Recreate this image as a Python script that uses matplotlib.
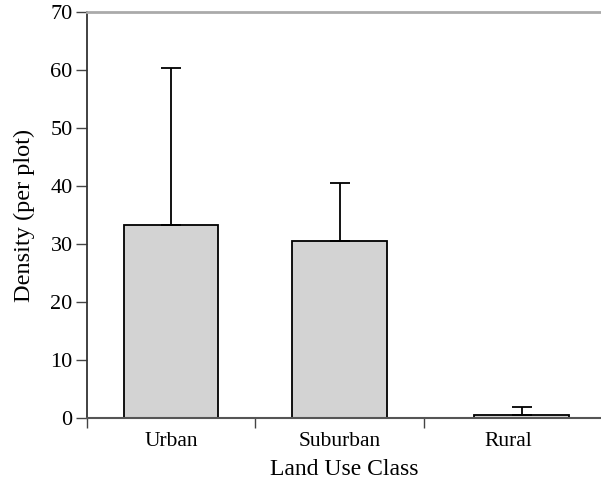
import matplotlib
matplotlib.use("Agg")
import matplotlib.pyplot as plt

categories = ["Urban", "Suburban", "Rural"]
density = [33.3, 30.6, 0.6]
error_up = [27.0, 10.0, 1.3]

label_pos = [0.5, 1.5, 2.5]
bar_pos = [0.5, 1.5, 2.58]

plt.rcParams["font.family"] = ["Liberation Serif", "DejaVu Serif"]

fig = plt.figure(figsize=(6.01, 4.82), dpi=100)
ax = fig.add_axes([0.144, 0.1328, 0.856, 0.8422])

ax.bar(bar_pos, density, width=0.56, color="#d3d3d3", edgecolor="black", linewidth=1.3,
       yerr=[[0, 0, 0], error_up], error_kw=dict(ecolor="black", elinewidth=1.3, capsize=7, capthick=1.3))

ax.set_xlim(0, 3.05)
ax.set_ylim(0, 70)
ax.set_yticks(range(0, 71, 10))
ax.set_xticks([0, 1, 2])
ax.set_xticklabels([])
ax.set_xticks(label_pos, minor=True)
ax.set_xticklabels(categories, minor=True, fontsize=15.5)
ax.tick_params(axis="x", which="minor", length=0, pad=10)
ax.tick_params(axis="x", which="major", length=7, width=1, color="#444444")
ax.tick_params(axis="y", length=8, width=1, color="#444444", labelsize=16, pad=2)

ax.spines["right"].set_visible(False)
ax.spines["top"].set_color("#aaaaaa")
ax.spines["top"].set_linewidth(2)
ax.spines["left"].set_color("#333333")
ax.spines["left"].set_linewidth(1.3)
ax.spines["bottom"].set_color("#555555")
ax.spines["bottom"].set_linewidth(1.5)

ax.set_xlabel("Land Use Class", fontsize=17, labelpad=6)
ax.set_ylabel("Density (per plot)", fontsize=17.5, labelpad=11)

fig.savefig("out.png", dpi=100)
